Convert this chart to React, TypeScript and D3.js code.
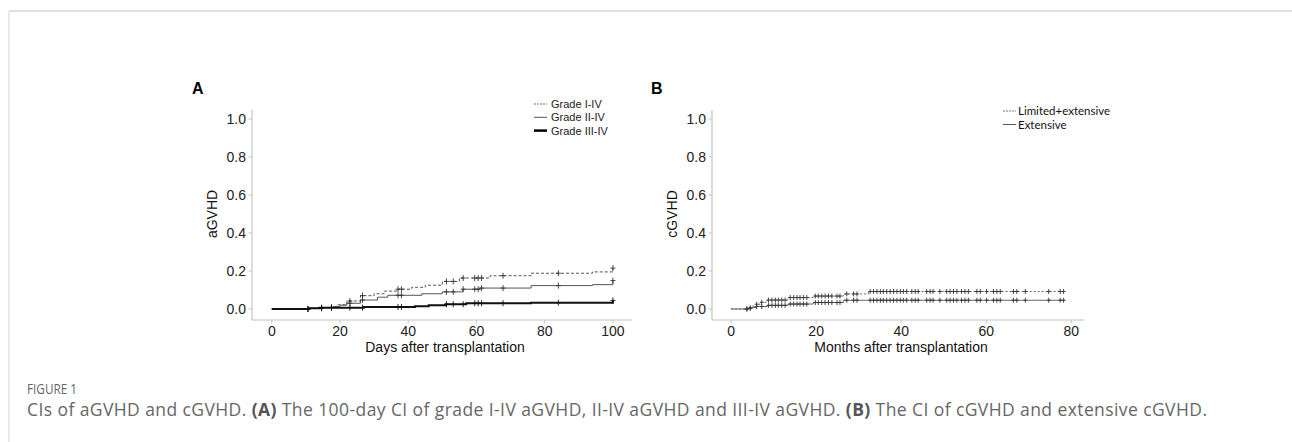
import React, { useEffect, useRef } from "react";
import * as d3 from "d3";

// panel A: 100-day cumulative incidence of aGVHD (days, CI after step)
const gradeItoIV: [number, number][] = [
  [0, 0], [11, 0.004], [15, 0.008], [18, 0.012], [19, 0.022], [22, 0.042],
  [26, 0.07], [30, 0.08], [33, 0.094], [37, 0.104], [41, 0.114], [45, 0.125],
  [50, 0.145], [55, 0.163], [64, 0.175], [76, 0.188], [94, 0.195], [100, 0.215],
];
const gradeIItoIV: [number, number][] = [
  [0, 0], [11, 0.004], [15, 0.008], [18, 0.012], [20, 0.02], [22, 0.03],
  [26, 0.047], [31, 0.062], [34, 0.072], [44, 0.08], [50, 0.09], [56, 0.104],
  [61, 0.11], [76, 0.123], [94, 0.128], [100, 0.15],
];
const gradeIIItoIV: [number, number][] = [
  [0, 0], [11, 0.004], [14, 0.007], [27, 0.01], [42, 0.015], [46, 0.02],
  [51, 0.025], [57, 0.03], [76, 0.033], [100, 0.045],
];
const censorDaysA = [10.6, 14.6, 17.5, 22.9, 26.6, 37, 38, 51.2, 53.2, 56.1, 59.5, 60.5, 61.5, 67.8, 84, 100];

// panel B: cGVHD (months)
const limitedExtensive: [number, number][] = [
  [0, 0], [4, 0.005], [5, 0.015], [6, 0.025], [7, 0.035], [8.5, 0.047],
  [13.4, 0.06], [19.3, 0.068], [26.4, 0.079], [32.3, 0.092], [78.5, 0.092],
];
const extensive: [number, number][] = [
  [0, 0], [4, 0.004], [5, 0.008], [6, 0.013], [8.5, 0.019], [13.4, 0.026],
  [19.3, 0.034], [26.4, 0.046], [78.5, 0.046],
];
const censorMonthsB = [
  3.7, 4.5, 6.0, 7.2, 8.8, 9.6, 10.4, 11.1, 11.9, 12.7, 13.9, 14.7, 15.5, 16.2,
  17.0, 17.8, 19.8, 20.5, 21.3, 22.1, 22.9, 23.7, 24.9, 25.6, 27.2, 28.8, 29.6,
  32.7, 33.5, 34.3, 35.1, 35.8, 36.6, 37.4, 38.2, 39.0, 39.8, 40.5, 41.3, 42.5,
  43.3, 44.0, 46.0, 46.8, 47.5, 49.1, 50.7, 51.5, 52.3, 53.1, 54.2, 55.0, 55.8,
  57.8, 58.6, 60.1, 61.7, 62.5, 63.3, 66.4, 67.2, 69.2, 74.7, 77.4, 78.2,
];

const yTicks = [0, 0.2, 0.4, 0.6, 0.8, 1.0];
const xTicksA = [0, 20, 40, 60, 80, 100];
const xTicksB = [0, 20, 40, 60, 80];
const legendA = ["Grade I-IV", "Grade II-IV", "Grade III-IV"];
const legendB = ["Limited+extensive", "Extensive"];

const AXIS_FONT = "'Liberation Sans', Arial, sans-serif";

export default function App() {
  const ref = useRef<SVGSVGElement>(null);

  useEffect(() => {
    const svg = d3.select(ref.current);
    svg.selectAll("*").remove();

    // page frame
    svg.append("line").attr("x1", 9).attr("x2", 1292).attr("y1", 11).attr("y2", 11)
      .attr("stroke", "#d4d4d4").attr("stroke-width", 1.5);
    svg.append("line").attr("x1", 9).attr("x2", 9).attr("y1", 11).attr("y2", 442)
      .attr("stroke", "#d4d4d4").attr("stroke-width", 1);

    const y = d3.scaleLinear().domain([-0.058, 1.047]).range([320, 110]);

    const valueAt = (curve: [number, number][], t: number) => {
      let v = 0;
      curve.forEach((p) => { if (p[0] <= t) v = p[1]; });
      return v;
    };

    const drawPanel = (opts: any) => {
      const { x, letter, letterX, ticks, xTitle, yTitle, yTitleX, curves, markSize } = opts;
      const g = svg.append("g");
      const [x0, x1] = x.range();

      g.append("text").text(letter).attr("x", letterX).attr("y", 94)
        .attr("font-family", AXIS_FONT).attr("font-weight", "bold")
        .attr("font-size", 16).attr("fill", "#000");

      // axes
      g.append("line").attr("x1", x0).attr("x2", x0).attr("y1", 110).attr("y2", 320)
        .attr("stroke", "#c4c4c4").attr("stroke-width", 1.2);
      g.append("line").attr("x1", x0).attr("x2", x1).attr("y1", 320).attr("y2", 320)
        .attr("stroke", "#c4c4c4").attr("stroke-width", 1.2);

      yTicks.forEach((t) => {
        g.append("line").attr("x1", x0 - 3.5).attr("x2", x0).attr("y1", y(t)).attr("y2", y(t))
          .attr("stroke", "#c4c4c4");
        g.append("text").text(t.toFixed(1)).attr("x", x0 - 6).attr("y", y(t) + 5)
          .attr("text-anchor", "end").attr("font-family", AXIS_FONT)
          .attr("font-size", 14).attr("fill", "#222");
      });
      ticks.forEach((t: number) => {
        g.append("line").attr("x1", x(t)).attr("x2", x(t)).attr("y1", 320).attr("y2", 323.5)
          .attr("stroke", "#c4c4c4");
        g.append("text").text(t).attr("x", x(t)).attr("y", 336)
          .attr("text-anchor", "middle").attr("font-family", AXIS_FONT)
          .attr("font-size", 14).attr("fill", "#222");
      });

      g.append("text").text(xTitle).attr("x", (x0 + x1) / 2 + 3).attr("y", 352)
        .attr("text-anchor", "middle").attr("font-family", AXIS_FONT)
        .attr("font-size", 14).attr("fill", "#111");
      g.append("text").text(yTitle)
        .attr("transform", `translate(${yTitleX}, ${y(0.5)}) rotate(-90)`)
        .attr("text-anchor", "middle").attr("font-family", AXIS_FONT)
        .attr("font-size", 14).attr("fill", "#111");

      const line = d3.line<[number, number]>()
        .x((d) => x(d[0])).y((d) => y(d[1]))
        .curve(d3.curveStepAfter);

      curves.forEach((c: any) => {
        g.append("path").datum(c.data).attr("d", line).attr("fill", "none")
          .attr("stroke", c.color).attr("stroke-width", c.width)
          .attr("stroke-dasharray", c.dash || null);
        const last = c.data[c.data.length - 1][0];
        c.censor.filter((t: number) => t <= last).forEach((t: number) => {
          const cx = x(t);
          const cy = y(valueAt(c.data, t));
          g.append("path")
            .attr("d", `M${cx - markSize},${cy}H${cx + markSize}M${cx},${cy - markSize - 0.5}V${cy + markSize + 0.5}`)
            .attr("stroke", c.markColor || c.color).attr("stroke-width", 0.9);
        });
      });
    };

    const xA = d3.scaleLinear().domain([-5.8, 105.6]).range([252, 632]);
    drawPanel({
      x: xA, letter: "A", letterX: 192, ticks: xTicksA, markSize: 2.5,
      xTitle: "Days after transplantation", yTitle: "aGVHD", yTitleX: 217,
      curves: [
        { data: gradeItoIV, color: "#555", width: 1, dash: "3,2", censor: censorDaysA, markColor: "#333" },
        { data: gradeIItoIV, color: "#555", width: 1, censor: censorDaysA, markColor: "#333" },
        { data: gradeIIItoIV, color: "#111", width: 2, censor: censorDaysA },
      ],
    });

    const xB = d3.scaleLinear().domain([-4.5, 83]).range([712, 1084]);
    drawPanel({
      x: xB, letter: "B", letterX: 651, ticks: xTicksB, markSize: 2,
      xTitle: "Months after transplantation", yTitle: "cGVHD", yTitleX: 677,
      curves: [
        { data: limitedExtensive, color: "#555", width: 0.9, dash: "2,2", censor: censorMonthsB, markColor: "#333" },
        { data: extensive, color: "#555", width: 0.9, censor: censorMonthsB, markColor: "#333" },
      ],
    });

    // legend A
    const legStylesA = [
      { color: "#777", width: 1, dash: "2,1" },
      { color: "#555", width: 1, dash: null },
      { color: "#000", width: 2.5, dash: null },
    ];
    legendA.forEach((name, i) => {
      const ly = 104 + i * 13.3;
      svg.append("line").attr("x1", 534).attr("x2", 547).attr("y1", ly).attr("y2", ly)
        .attr("stroke", legStylesA[i].color).attr("stroke-width", legStylesA[i].width)
        .attr("stroke-dasharray", legStylesA[i].dash);
      svg.append("text").text(name).attr("x", 551).attr("y", ly + 4)
        .attr("font-family", AXIS_FONT).attr("font-size", 11).attr("fill", "#222");
    });

    // legend B
    const legStylesB = [
      { color: "#777", dash: "2,1" },
      { color: "#555", dash: null },
    ];
    legendB.forEach((name, i) => {
      const ly = 111 + i * 13.5;
      svg.append("line").attr("x1", 1003).attr("x2", 1016).attr("y1", ly).attr("y2", ly)
        .attr("stroke", legStylesB[i].color).attr("stroke-width", 1)
        .attr("stroke-dasharray", legStylesB[i].dash);
      svg.append("text").text(name).attr("x", 1018).attr("y", ly + 4)
        .attr("font-family", "Lato, sans-serif").attr("font-size", 11.5).attr("fill", "#111");
    });

    // caption
    svg.append("text").text("FIGURE 1").attr("x", 27).attr("y", 394)
      .attr("font-family", "'Open Sans', sans-serif").attr("font-size", 14)
      .attr("textLength", 50).attr("lengthAdjust", "spacingAndGlyphs")
      .attr("fill", "#666");
    const cap = svg.append("text").attr("x", 27).attr("y", 416)
      .attr("font-family", "'Open Sans', sans-serif").attr("font-size", 17.5)
      .attr("textLength", 1180).attr("lengthAdjust", "spacing")
      .attr("fill", "#666");
    cap.append("tspan").text("CIs of aGVHD and cGVHD. ");
    cap.append("tspan").text("(A)").attr("font-weight", "bold").attr("fill", "#555");
    cap.append("tspan").text(" The 100-day CI of grade I-IV aGVHD, II-IV aGVHD and III-IV aGVHD. ");
    cap.append("tspan").text("(B)").attr("font-weight", "bold").attr("fill", "#555");
    cap.append("tspan").text(" The CI of cGVHD and extensive cGVHD.");
  }, []);

  return (
    <svg ref={ref} width={1292} height={442}
      style={{ position: "absolute", left: 0, top: 0, background: "#fff" }} />
  );
}
